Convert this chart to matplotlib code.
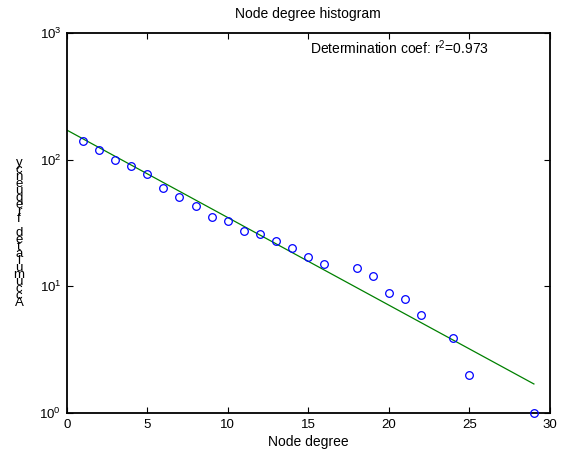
import numpy as np
import matplotlib
matplotlib.use("Agg")
import matplotlib.pyplot as plt
from matplotlib.ticker import LogLocator, NullLocator, FixedLocator
# - - - - - - - - - - - - - - - - - - - - - - - - - - - - - - - - - - - - - - - - - - #
plt.rcParams['font.family'] = ['Liberation Sans', 'DejaVu Sans']
plt.rcParams['mathtext.fontset'] = 'custom'
plt.rcParams['mathtext.rm'] = 'Liberation Sans'
plt.rcParams['mathtext.it'] = 'Liberation Sans'
# - - - - - - - - - - - - - - - - - - - - - - - - - - - - - - - - - - - - - - - - - - #
# data
node_degree = [1, 2, 3, 4, 5, 6, 7, 8, 9, 10, 11, 12, 13, 14, 15, 16,
               18, 19, 20, 21, 22, 24, 25, 29]
accum_freq = [140, 119, 99, 89, 77, 60, 51, 43, 35, 33, 27.5, 26, 23, 20, 17, 15,
              14, 12, 8.8, 8, 5.9, 3.9, 2, 1]

fit_x_range = [0, 29]
fit_a = 171.5        # value at x = 0
fit_log10_slope = -0.06914
r2 = 0.973

title_txt = "Node degree histogram"
xlabel_txt = "Node degree"
ylabel_txt = "Accumulated frequency"
xticks = [0, 5, 10, 15, 20, 25, 30]
# - - - - - - - - - - - - - - - - - - - - - - - - - - - - - - - - - - - - - - - - - - #
fig = plt.figure(figsize=(5.63, 4.55), dpi=100)
ax = fig.add_axes([66.7 / 563, 42 / 455, (550 - 66.7) / 563, 380 / 455])

fx = np.linspace(fit_x_range[0], fit_x_range[1], 50)
fy = fit_a * 10 ** (fit_log10_slope * fx)
ax.plot(fx, fy, color=(0, 0.5, 0), lw=0.9, zorder=2)
ax.plot(node_degree, accum_freq, 'o', mfc='none', mec='blue', ms=5.5, mew=0.9,
        zorder=3, clip_on=False)

ax.set_yscale('log')
ax.set_xlim(0, 30)
ax.set_ylim(1, 1000)
ax.xaxis.set_major_locator(FixedLocator(xticks))
ax.yaxis.set_major_locator(LogLocator(base=10, numticks=10))
ax.yaxis.set_minor_locator(NullLocator())

ax.tick_params(which='both', direction='in', top=True, right=True,
               length=4, width=0.8, labelsize=9.5, pad=4)
for sp in ax.spines.values():
    sp.set_linewidth(1.3)

ax.set_title(title_txt, fontsize=10, pad=11)
ax.set_xlabel(xlabel_txt, fontsize=10, labelpad=3)

ax.text(15.1, 770, "Determination coef: r$^{2}$=%.3f" % r2, fontsize=10,
        va='center', ha='left')

# the stacked y label, one upright character per step, bottom to top
chars = list(ylabel_txt)
y_bottom = 303
step = 7.0
for i, ch in enumerate(chars):
    yy = y_bottom - i * step
    fig.text(19 / 563, 1 - yy / 455, ch, fontsize=9.5, ha='center', va='center')

fig.savefig("out.png", dpi=100)
